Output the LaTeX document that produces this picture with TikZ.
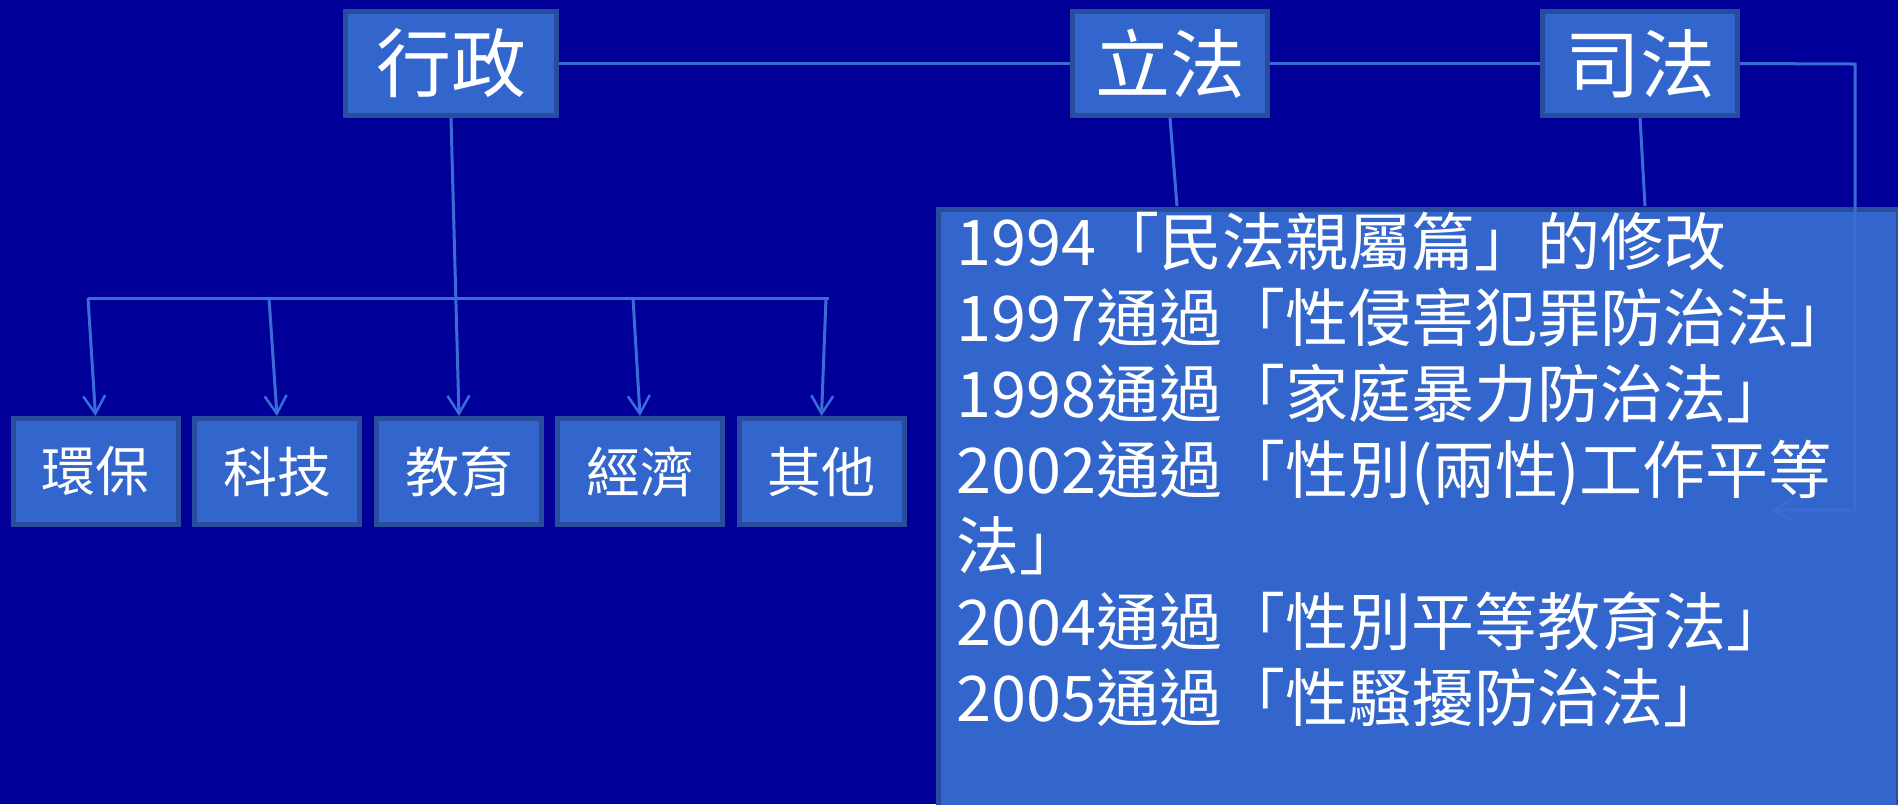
\documentclass[tikz,border=0pt]{standalone}
\usepackage{fontspec}
\newfontfamily\cjk{Noto Sans CJK TC}
\usetikzlibrary{arrows.meta}
\definecolor{bgcol}{RGB}{0,0,153}
\definecolor{boxfill}{RGB}{51,102,204}
\definecolor{boxline}{RGB}{40,77,158}
\definecolor{linkcol}{RGB}{58,108,214}
\begin{document}
\begin{tikzpicture}[x=1pt,y=-1pt,
  topbox/.style={draw=boxline, fill=boxfill, line width=5pt, minimum height=104pt, inner sep=0pt, text=white, font=\cjk\fontsize{75}{80}\selectfont},
  subbox/.style={draw=boxline, fill=boxfill, line width=5pt, minimum width=165pt, minimum height=106pt, inner sep=0pt, text=white, font=\cjk\fontsize{54}{60}\selectfont},
  lawbox/.style={draw=boxline, fill=boxfill, line width=5pt, inner sep=0pt},
  link/.style={draw=linkcol, line width=3pt},
  arr/.style={link, -{Straight Barb[length=18pt,width=22pt,line width=2.5pt]}},
  lawtext/.style={text=white, align=left, inner sep=0pt, font=\cjk\fontsize{63}{76}\selectfont}
]
\useasboundingbox (0,0) rectangle (1898,804);
\fill[bgcol] (0,0) rectangle (1898,804);

% top level
\node[topbox, minimum width=211pt] (xz) at (451,63.5) {行政};
\node[topbox, minimum width=195pt] (lf) at (1170,63.5) {立法};
\node[topbox, minimum width=195pt] (sf) at (1640,63.5) {司法};

% sub boxes
\node[subbox] (hb) at (95.5,471.5) {環保};
\node[subbox] (kj) at (277,471.5) {科技};
\node[subbox] (jy) at (459,471.5) {教育};
\node[subbox] (jj) at (640,471.5) {經濟};
\node[subbox] (qt) at (821.5,471.5) {其他};

% top connectors
\draw[link] (xz.east) -- (lf.west);
\draw[link] (lf.east) -- (sf.west);

% executive branch tree
\coordinate (b1) at (88,298);
\coordinate (b2) at (269,298);
\coordinate (b4) at (633,298);
\coordinate (b5) at (826,298);
\coordinate (bend) at (829,298);
\draw[link] (b1) -- (bend);
\draw[arr] (xz.south) -- (jy.north);
\draw[arr] (b1) -- (hb.north);
\draw[arr] (b2) -- (kj.north);
\draw[arr] (b4) -- (jj.north);
\draw[arr] (b5) -- (qt.north);

% legislative / judicial to law box
\coordinate (lfend) at (1177,206);
\coordinate (sfend) at (1645,206);
\draw[link] (lf.south) -- (lfend);
\draw[link] (sf.south) -- (sfend);

% law box
\node[lawbox, minimum width=960pt, minimum height=640pt, anchor=north west] (laws) at (935.5,206.5) {};

% judicial side connector
\coordinate (s1) at (1852,64);
\coordinate (s2) at (1855,64);
\coordinate (s3) at (1855,510);
\coordinate (s4) at (1772,510);
\draw[arr] (sf.east) -- (s1) -- (s2) -- (s3) -- (s4);

% law text
\node[lawtext, anchor=north west] (lt) at (956,212) {1994「民法親屬篇」的修改\\1997通過「性侵害犯罪防治法」\\1998通過「家庭暴力防治法」\\2002通過「性別(兩性)工作平等\\法」\\2004通過「性別平等教育法」\\2005通過「性騷擾防治法」};
\end{tikzpicture}
\end{document}
